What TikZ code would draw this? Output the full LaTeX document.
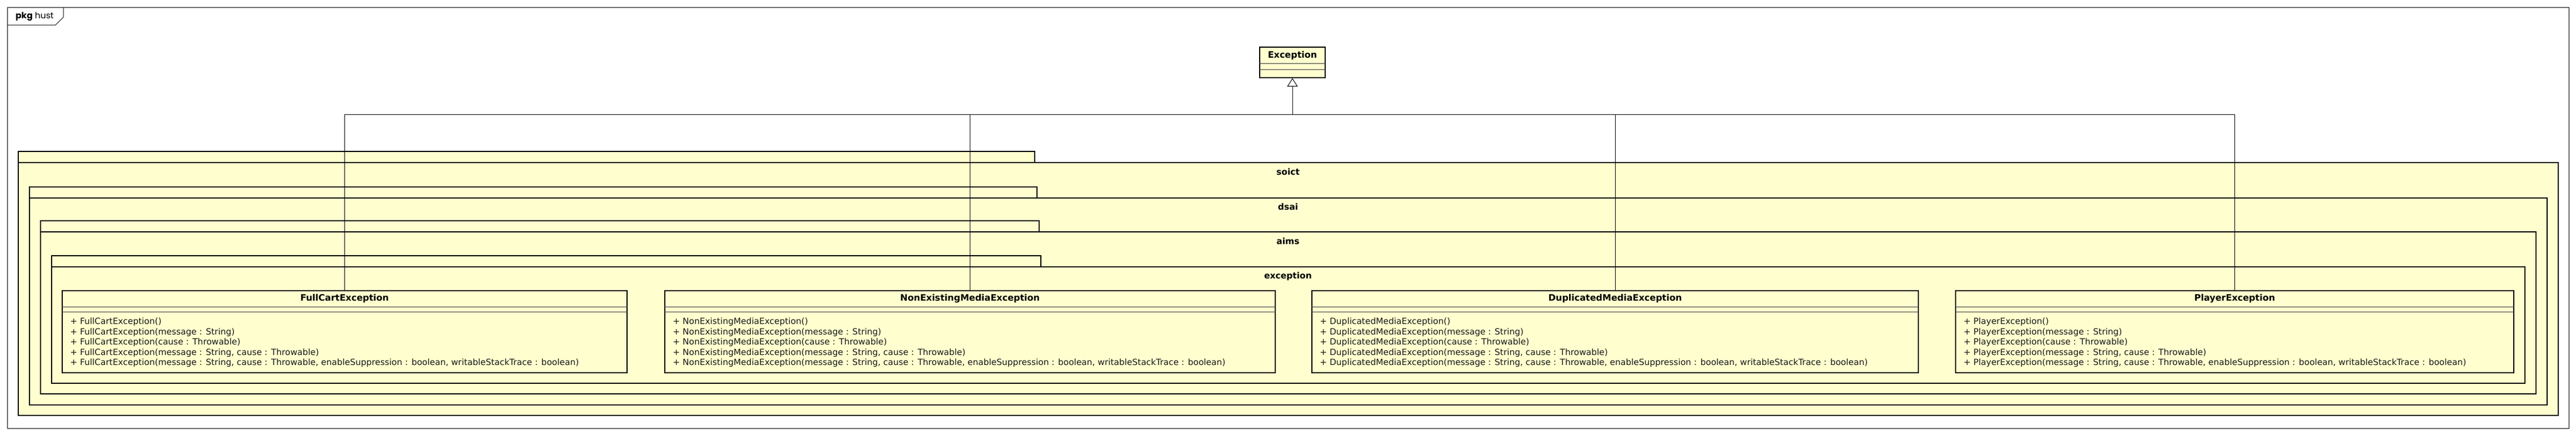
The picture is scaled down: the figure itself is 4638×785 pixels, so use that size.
\documentclass[tikz,border=0pt]{standalone}
\usepackage{fontspec}
\setmainfont{DejaVu Sans}
\newfontfamily\tabfont{Poppins}
\usetikzlibrary{arrows.meta,calc}
\definecolor{umlfill}{HTML}{FEFECE}
\newcommand\umlpackage[5]{%
  \draw[pkgline] (#1,#2) -- (#3,#2) -- (#3,{#2+20}) -- (#4,{#2+20}) -- (#4,#5) -- (#1,#5) -- cycle;
  \draw[pkgline,fill=none] (#1,{#2+20}) -- (#3,{#2+20});
}
\begin{document}
\begin{tikzpicture}[x=1pt,y=-1pt,
  frameline/.style={draw=black,line width=1pt},
  pkgline/.style={draw=black,line width=1.6pt,fill=umlfill},
  pkglabel/.style={font=\fontsize{15.5}{18}\selectfont\bfseries,inner sep=0},
  classbox/.style={draw=black,line width=1.8pt,fill=umlfill,inner sep=0,minimum height=148pt},
  sepline/.style={draw=black!80,line width=0.9pt},
  classtitle/.style={font=\fontsize{16}{19}\selectfont\bfseries,inner sep=0},
  members/.style={font=\fontsize{15.4}{18.5}\selectfont,align=left,inner sep=0,anchor=west,text=black!90},
  conn/.style={draw=black,line width=1pt},
  ]
\fill[white] (0,0) rectangle (4638,785);
\useasboundingbox (0,0) rectangle (4638,785);

% outer frame
\draw[frameline] (13,13) rectangle (4625,772);
\draw[frameline] (13,45) -- (100,45) -- (114,31) -- (114,13);
\node[anchor=west,inner sep=0,font=\tabfont\fontsize{15.5}{18}\selectfont] (framelabel) at (28,30) {\textbf{pkg} hust};

% packages
\umlpackage{33}{273}{1863}{4606}{749}
\node[pkglabel] (soict) at (2319,310) {soict};
\umlpackage{53}{337}{1867}{4586}{730}
\node[pkglabel] (dsai) at (2319,373) {dsai};
\umlpackage{73}{398}{1871}{4566}{710}
\node[pkglabel] (aims) at (2319,435) {aims};
\umlpackage{93}{461}{1874}{4546}{691}
\node[pkglabel] (exceptionpkg) at (2319,498) {exception};

% Exception class
\node[classbox,minimum width=118pt,minimum height=55pt] (exc) at (2327,112.5) {};
\node[classtitle] (exctitle) at (2327,100) {Exception};
\coordinate (es1) at (0,114);
\coordinate (es2) at (0,125);
\draw[sepline] (exc.west |- es1) -- (exc.east |- es1);
\draw[sepline] (exc.west |- es2) -- (exc.east |- es2);

% class separators reference
\coordinate (cs1) at (0,553);
\coordinate (cs2) at (0,562.5);
\coordinate (tt) at (0,538.5);
\coordinate (mm) at (0,617.5);

% FullCartException
\node[classbox,minimum width=1017pt] (full) at (620.5,598) {};
\node[classtitle] (fulltitle) at (full.center |- tt) {FullCartException};
\draw[sepline] (full.west |- cs1) -- (full.east |- cs1);
\draw[sepline] (full.west |- cs2) -- (full.east |- cs2);
\node[members] (fullmem) at ($(full.west |- mm)+(15,0)$) {+ FullCartException()\\+ FullCartException(message : String)\\+ FullCartException(cause : Throwable)\\+ FullCartException(message : String, cause : Throwable)\\+ FullCartException(message : String, cause : Throwable, enableSuppression : boolean, writableStackTrace : boolean)};

% NonExistingMediaException
\node[classbox,minimum width=1099pt] (nonexist) at (1746.5,598) {};
\node[classtitle] (nonexisttitle) at (nonexist.center |- tt) {NonExistingMediaException};
\draw[sepline] (nonexist.west |- cs1) -- (nonexist.east |- cs1);
\draw[sepline] (nonexist.west |- cs2) -- (nonexist.east |- cs2);
\node[members] (nonexistmem) at ($(nonexist.west |- mm)+(15,0)$) {+ NonExistingMediaException()\\+ NonExistingMediaException(message : String)\\+ NonExistingMediaException(cause : Throwable)\\+ NonExistingMediaException(message : String, cause : Throwable)\\+ NonExistingMediaException(message : String, cause : Throwable, enableSuppression : boolean, writableStackTrace : boolean)};

% DuplicatedMediaException
\node[classbox,minimum width=1092pt] (dup) at (2908,598) {};
\node[classtitle] (duptitle) at (dup.center |- tt) {DuplicatedMediaException};
\draw[sepline] (dup.west |- cs1) -- (dup.east |- cs1);
\draw[sepline] (dup.west |- cs2) -- (dup.east |- cs2);
\node[members] (dupmem) at ($(dup.west |- mm)+(15,0)$) {+ DuplicatedMediaException()\\+ DuplicatedMediaException(message : String)\\+ DuplicatedMediaException(cause : Throwable)\\+ DuplicatedMediaException(message : String, cause : Throwable)\\+ DuplicatedMediaException(message : String, cause : Throwable, enableSuppression : boolean, writableStackTrace : boolean)};

% PlayerException
\node[classbox,minimum width=1005pt] (player) at (4023.5,598) {};
\node[classtitle] (playertitle) at (player.center |- tt) {PlayerException};
\draw[sepline] (player.west |- cs1) -- (player.east |- cs1);
\draw[sepline] (player.west |- cs2) -- (player.east |- cs2);
\node[members] (playermem) at ($(player.west |- mm)+(15,0)$) {+ PlayerException()\\+ PlayerException(message : String)\\+ PlayerException(cause : Throwable)\\+ PlayerException(message : String, cause : Throwable)\\+ PlayerException(message : String, cause : Throwable, enableSuppression : boolean, writableStackTrace : boolean)};

% generalisation connectors
\coordinate (bus) at (2327,206);
\draw[conn] (full.north) |- (bus);
\draw[conn] (nonexist.north) |- (bus);
\draw[conn] (dup.north) |- (bus);
\draw[conn] (player.north) |- (bus);
\draw[conn,-{Triangle[length=15pt,width=19pt,fill=white]}] (bus) -- (exc.south);
\end{tikzpicture}
\end{document}
